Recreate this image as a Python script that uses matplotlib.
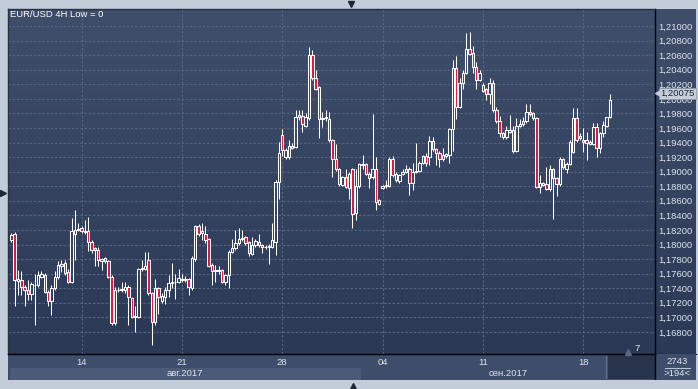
import numpy as np
import matplotlib
matplotlib.use('Agg')
import matplotlib.pyplot as plt
from matplotlib.colors import LinearSegmentedColormap
from matplotlib.transforms import blended_transform_factory

# EUR/USD 4H candles, 10 Aug - 19 Sep 2017
opens = [1.1806, 1.1815, 1.1750, 1.1751, 1.1742, 1.1737, 1.1732, 1.1744, 1.1744, 1.1756,
         1.1758, 1.1735, 1.1722, 1.1740, 1.1756, 1.1770, 1.1774, 1.1762, 1.1749, 1.1815,
         1.1820, 1.1822, 1.1817, 1.1818, 1.1804, 1.1795, 1.1792, 1.1778, 1.1781, 1.1777,
         1.1756, 1.1692, 1.1737, 1.1737, 1.1737, 1.1742, 1.1726, 1.1700, 1.1701, 1.1766,
         1.1767, 1.1779, 1.1733, 1.1693, 1.1740, 1.1722, 1.1728, 1.1738, 1.1747, 1.1748,
         1.1749, 1.1751, 1.1751, 1.1752, 1.1740, 1.1780, 1.1825, 1.1816, 1.1815, 1.1807,
         1.1772, 1.1763, 1.1764, 1.1765, 1.1749, 1.1758, 1.1790, 1.1795, 1.1802, 1.1807,
         1.1810, 1.1803, 1.1787, 1.1799, 1.1804, 1.1799, 1.1796, 1.1796, 1.1797, 1.1804,
         1.1886, 1.1950, 1.1920, 1.1920, 1.1933, 1.1934, 1.1975, 1.1976, 1.1963, 1.1973,
         1.2060, 1.2028, 1.2016, 1.1972, 1.1973, 1.1972, 1.1943, 1.1917, 1.1903, 1.1882,
         1.1892, 1.1877, 1.1903, 1.1843, 1.1880, 1.1909, 1.1910, 1.1897, 1.1892, 1.1904,
         1.1856, 1.1878, 1.1880, 1.1881, 1.1918, 1.1888, 1.1887, 1.1897, 1.1900, 1.1904,
         1.1885, 1.1900, 1.1901, 1.1912, 1.1921, 1.1920, 1.1942, 1.1931, 1.1926, 1.1917,
         1.1921, 1.1923, 1.1958, 1.2042, 1.1989, 1.2022, 1.2036, 1.2069, 1.2063, 1.2043,
         1.2026, 1.2019, 1.2013, 1.2007, 1.2022, 1.1984, 1.1970, 1.1953, 1.1947, 1.1955,
         1.1957, 1.1929, 1.1963, 1.1965, 1.1969, 1.1982, 1.1980, 1.1973, 1.1879, 1.1882,
         1.1883, 1.1876, 1.1903, 1.1891, 1.1883, 1.1917, 1.1904, 1.1911, 1.1927, 1.1973,
         1.1946, 1.1941, 1.1943, 1.1938, 1.1938, 1.1961, 1.1933, 1.1953, 1.1963, 1.1975]
highs = [1.1816, 1.1817, 1.1765, 1.1763, 1.1745, 1.1751, 1.1749, 1.1760, 1.1763, 1.1764,
         1.1761, 1.1737, 1.1744, 1.1763, 1.1777, 1.1779, 1.1779, 1.1766, 1.1836, 1.1847,
         1.1829, 1.1826, 1.1834, 1.1838, 1.1806, 1.1797, 1.1797, 1.1782, 1.1783, 1.1779,
         1.1758, 1.1741, 1.1742, 1.1749, 1.1749, 1.1744, 1.1728, 1.1716, 1.1768, 1.1779,
         1.1790, 1.1790, 1.1735, 1.1753, 1.1742, 1.1733, 1.1742, 1.1758, 1.1774, 1.1760,
         1.1766, 1.1760, 1.1757, 1.1754, 1.1784, 1.1827, 1.1828, 1.1829, 1.1825, 1.1809,
         1.1774, 1.1772, 1.1770, 1.1767, 1.1760, 1.1792, 1.1807, 1.1820, 1.1822, 1.1820,
         1.1812, 1.1805, 1.1810, 1.1807, 1.1815, 1.1801, 1.1800, 1.1801, 1.1829, 1.1888,
         1.1941, 1.1959, 1.1933, 1.1943, 1.1940, 1.1984, 1.1985, 1.1985, 1.1981, 1.2071,
         1.2067, 1.2039, 1.2018, 1.1982, 1.1984, 1.1982, 1.1945, 1.1938, 1.1905, 1.1894,
         1.1904, 1.1899, 1.1905, 1.1904, 1.1912, 1.1923, 1.1912, 1.1899, 1.1979, 1.1920,
         1.1863, 1.1882, 1.1889, 1.1920, 1.1921, 1.1900, 1.1897, 1.1903, 1.1909, 1.1906,
         1.1912, 1.1940, 1.1914, 1.1923, 1.1925, 1.1949, 1.1948, 1.1933, 1.1928, 1.1933,
         1.1926, 1.1960, 1.2053, 1.2059, 1.2028, 1.2040, 1.2090, 1.2092, 1.2072, 1.2051,
         1.2040, 1.2022, 1.2015, 1.2029, 1.2026, 1.1989, 1.1976, 1.1955, 1.1963, 1.1978,
         1.1963, 1.1973, 1.1972, 1.1975, 1.1993, 1.1993, 1.1982, 1.1975, 1.1895, 1.1886,
         1.1907, 1.1909, 1.1905, 1.1893, 1.1920, 1.1919, 1.1913, 1.1943, 1.1987, 1.1987,
         1.1953, 1.1960, 1.1955, 1.1944, 1.1967, 1.1967, 1.1955, 1.1969, 1.1975, 1.2007]
lows = [1.1803, 1.1715, 1.1731, 1.1731, 1.1716, 1.1724, 1.1724, 1.1690, 1.1742, 1.1754,
        1.1733, 1.1715, 1.1703, 1.1738, 1.1752, 1.1762, 1.1758, 1.1747, 1.1747, 1.1779,
        1.1818, 1.1816, 1.1815, 1.1791, 1.1788, 1.1770, 1.1770, 1.1765, 1.1775, 1.1754,
        1.1690, 1.1690, 1.1735, 1.1735, 1.1733, 1.1690, 1.1699, 1.1680, 1.1699, 1.1764,
        1.1765, 1.1731, 1.1662, 1.1690, 1.1705, 1.1720, 1.1718, 1.1728, 1.1740, 1.1725,
        1.1747, 1.1749, 1.1748, 1.1731, 1.1738, 1.1778, 1.1812, 1.1806, 1.1802, 1.1769,
        1.1744, 1.1749, 1.1760, 1.1747, 1.1745, 1.1740, 1.1788, 1.1793, 1.1800, 1.1805,
        1.1800, 1.1784, 1.1785, 1.1797, 1.1797, 1.1789, 1.1794, 1.1773, 1.1795, 1.1786,
        1.1863, 1.1921, 1.1918, 1.1918, 1.1931, 1.1932, 1.1971, 1.1955, 1.1961, 1.1971,
        1.2026, 1.2012, 1.1946, 1.1962, 1.1970, 1.1941, 1.1893, 1.1901, 1.1881, 1.1880,
        1.1877, 1.1863, 1.1822, 1.1834, 1.1878, 1.1904, 1.1895, 1.1878, 1.1890, 1.1848,
        1.1854, 1.1876, 1.1878, 1.1879, 1.1893, 1.1886, 1.1885, 1.1895, 1.1898, 1.1868,
        1.1875, 1.1898, 1.1899, 1.1910, 1.1908, 1.1909, 1.1929, 1.1909, 1.1907, 1.1915,
        1.1919, 1.1912, 1.1929, 1.1972, 1.1987, 1.2014, 1.2034, 1.2060, 1.2036, 1.2014,
        1.2024, 1.2009, 1.1999, 1.1993, 1.1982, 1.1967, 1.1947, 1.1945, 1.1945, 1.1953,
        1.1926, 1.1927, 1.1961, 1.1963, 1.1967, 1.1977, 1.1971, 1.1877, 1.1871, 1.1880,
        1.1875, 1.1874, 1.1835, 1.1866, 1.1881, 1.1904, 1.1898, 1.1909, 1.1925, 1.1941,
        1.1943, 1.1927, 1.1916, 1.1936, 1.1936, 1.1920, 1.1926, 1.1947, 1.1961, 1.1973]
closes = [1.1813, 1.1751, 1.1752, 1.1742, 1.1737, 1.1732, 1.1746, 1.1745, 1.1758, 1.1760,
          1.1735, 1.1722, 1.1740, 1.1756, 1.1772, 1.1773, 1.1761, 1.1749, 1.1818, 1.1820,
          1.1821, 1.1818, 1.1819, 1.1804, 1.1793, 1.1792, 1.1779, 1.1780, 1.1777, 1.1756,
          1.1692, 1.1738, 1.1738, 1.1739, 1.1742, 1.1728, 1.1701, 1.1702, 1.1767, 1.1768,
          1.1770, 1.1733, 1.1693, 1.1740, 1.1728, 1.1729, 1.1738, 1.1747, 1.1748, 1.1749,
          1.1754, 1.1752, 1.1753, 1.1741, 1.1781, 1.1825, 1.1815, 1.1818, 1.1806, 1.1771,
          1.1763, 1.1765, 1.1765, 1.1749, 1.1758, 1.1790, 1.1795, 1.1802, 1.1807, 1.1809,
          1.1802, 1.1788, 1.1799, 1.1805, 1.1799, 1.1796, 1.1797, 1.1798, 1.1806, 1.1886,
          1.1926, 1.1930, 1.1930, 1.1935, 1.1935, 1.1975, 1.1978, 1.1965, 1.1975, 1.2060,
          1.2028, 1.2014, 1.1972, 1.1974, 1.1975, 1.1943, 1.1918, 1.1903, 1.1883, 1.1892,
          1.1879, 1.1897, 1.1842, 1.1880, 1.1910, 1.1910, 1.1897, 1.1891, 1.1904, 1.1859,
          1.1861, 1.1880, 1.1882, 1.1917, 1.1895, 1.1897, 1.1895, 1.1899, 1.1904, 1.1884,
          1.1900, 1.1901, 1.1912, 1.1921, 1.1912, 1.1942, 1.1931, 1.1926, 1.1917, 1.1923,
          1.1924, 1.1958, 1.2042, 1.1989, 1.2022, 1.2036, 1.2069, 1.2062, 1.2043, 1.2026,
          1.2035, 1.2011, 1.2007, 1.2022, 1.1984, 1.1969, 1.1953, 1.1947, 1.1957, 1.1957,
          1.1929, 1.1963, 1.1966, 1.1970, 1.1982, 1.1979, 1.1973, 1.1879, 1.1884, 1.1884,
          1.1876, 1.1903, 1.1891, 1.1883, 1.1917, 1.1906, 1.1911, 1.1941, 1.1973, 1.1944,
          1.1949, 1.1943, 1.1940, 1.1941, 1.1961, 1.1933, 1.1953, 1.1964, 1.1975, 1.1999]

week_ticks = [21, 51, 81, 111, 141, 171]
week_labels = ['14', '21', '28', '04', '11', '18']
month_labels = ['авг.2017', 'сен.2017']
month_centers = [52, 148.5]
price_ticks = [1.168, 1.170, 1.172, 1.174, 1.176, 1.178, 1.180, 1.182, 1.184, 1.186, 1.188,
               1.190, 1.192, 1.194, 1.196, 1.198, 1.200, 1.202, 1.204, 1.206, 1.208, 1.210]
last_price = 1.20075

W, H = 698, 389
def fx(px):
    return px / W
def fy(py):
    return 1 - py / H

plt.rcParams['font.family'] = ['Liberation Sans', 'DejaVu Sans']
fs = 6.8
txt_col = '#dde4ed'
grid_col = '#56657f'
bg = LinearSegmentedColormap.from_list('bg', ['#2b3956', '#3f4e6b'])
grad = np.linspace(0, 1, 256).reshape(-1, 1)

fig = plt.figure(figsize=(6.98, 3.89), dpi=100, facecolor='#c3cdd9')

# price scale panel on the right
ax_p = fig.add_axes([fx(655), fy(354), fx(696) - fx(655), fy(9) - fy(354)])
ax_p.imshow(grad, cmap=bg, origin='lower', aspect='auto', extent=[0, 1, 0, 1])
ax_p.set_xlim(0, 1)
ax_p.set_ylim(0, 1)
ax_p.set_xticks([])
ax_p.set_yticks([])
for s in ax_p.spines.values():
    s.set_visible(False)
ax_p.spines['bottom'].set_visible(True)
ax_p.spines['bottom'].set_color('black')
ax_p.set_zorder(0)

# main chart
ax = fig.add_axes([fx(8), fy(354), fx(655) - fx(8), fy(9) - fy(354)])
ax.set_zorder(1)
ax.imshow(grad, cmap=bg, origin='lower', aspect='auto', extent=[0, 1, 0, 1],
          transform=ax.transAxes, zorder=0)

o = np.array(opens)
h = np.array(highs)
l = np.array(lows)
c = np.array(closes)
x = np.arange(len(o))
up = c >= o
lo = np.minimum(o, c)
hi = np.maximum(o, c)

ax.vlines(x, l, lo, color='white', lw=0.75, zorder=2)
ax.vlines(x, hi, h, color='white', lw=0.75, zorder=2)
ax.bar(x, hi - lo, bottom=lo, width=0.72, color=np.where(up, 'none', '#e5123c'),
       edgecolor='white', linewidth=0.75, zorder=3)

ax.set_xlim(-0.987, 192.44)
ax.set_ylim(1.16497, 1.21233)
ax.set_xticks(week_ticks)
ax.tick_params(axis='x', length=0, labelbottom=False)
ax.yaxis.tick_right()
ax.set_yticks(price_ticks)
ax.set_yticklabels([f'{p:.5f}'.replace('.', ',') for p in price_ticks])
ax.tick_params(axis='y', length=0, pad=2.2, labelsize=fs, labelcolor=txt_col)
ax.grid(color=grid_col, lw=0.8, linestyle=(0, (2.2, 1.6)))
ax.set_axisbelow(True)
for side in ['right', 'bottom']:
    ax.spines[side].set_color('black')
    ax.spines[side].set_linewidth(1.0)
for side in ['left', 'top']:
    ax.spines[side].set_color('#263145')
    ax.spines[side].set_linewidth(1.0)

ax.text(0.003, 0.985, 'EUR/USD 4H Low = 0', transform=ax.transAxes, color='white',
        fontsize=fs, ha='left', va='center')

# last price marker
trans = blended_transform_factory(fig.transFigure, ax.transData)
ax.text(fx(677.5), last_price, f'{last_price:.5f}'.replace('.', ','), transform=trans,
        ha='center', va='center', fontsize=fs, color='#1d2435', zorder=6, clip_on=False,
        bbox=dict(boxstyle='square,pad=0.12', fc='#c6ced9', ec='#8d98a8', lw=0.5))
ax.plot(fx(657.5), last_price, marker='<', ms=4, color='#c6ced9', transform=trans,
        clip_on=False, zorder=6)

# time axis bar
ax_b = fig.add_axes([fx(8), fy(380), fx(696) - fx(8), fy(354) - fy(380)])
ax_b.set_facecolor('#3e4d69')
ax_b.set_xlim(-0.987, 204.7)
ax_b.set_ylim(0, 1)
ax_b.set_xticks([])
ax_b.set_yticks([])
for s in ax_b.spines.values():
    s.set_visible(False)
ax_b.axvspan(-0.5, 104.5, ymin=0, ymax=0.46, color='#4b5a77', lw=0)
ax_b.axvspan(178.4, 192.44, ymin=0.02, ymax=0.96, color='#27344c', lw=0)
ax_b.axvline(177.8, ymin=0.08, ymax=0.92, color='#5e6d88', lw=1)
ax_b.axvline(192.44, color='black', lw=1)
for xt, lab in zip(week_ticks, week_labels):
    ax_b.text(xt, 0.69, lab, ha='center', va='center', fontsize=fs, color=txt_col)
for xm, lab in zip(month_centers, month_labels):
    ax_b.text(xm, 0.25, lab, ha='center', va='center', fontsize=fs, color=txt_col)
ax_b.text(199.0, 0.7, '2743', ha='center', va='center', fontsize=fs, color=txt_col)
ax_b.plot([195.4, 202.9], [0.46, 0.46], color='#b8c1ce', lw=0.8)
ax_b.text(199.0, 0.25, '>194<', ha='center', va='center', fontsize=fs, color=txt_col)

# small window decorations
ax_o = fig.add_axes([0, 0, 1, 1])
ax_o.set_xlim(0, W)
ax_o.set_ylim(H, 0)
ax_o.axis('off')
ax_o.set_zorder(10)
ax_o.plot(351, 3.5, marker='v', ms=5, color='#1d2738')
ax_o.plot(352.5, 386, marker='^', ms=5, color='#1d2738')
ax_o.plot(3, 193, marker='>', ms=5, color='#1d2738')
ax_o.plot(628, 351.5, marker='^', ms=4.5, color='#5b6880')
ax_o.text(637, 348.5, '7', ha='center', va='center', fontsize=fs, color=txt_col)

fig.savefig('out.png', dpi=100, facecolor=fig.get_facecolor())
